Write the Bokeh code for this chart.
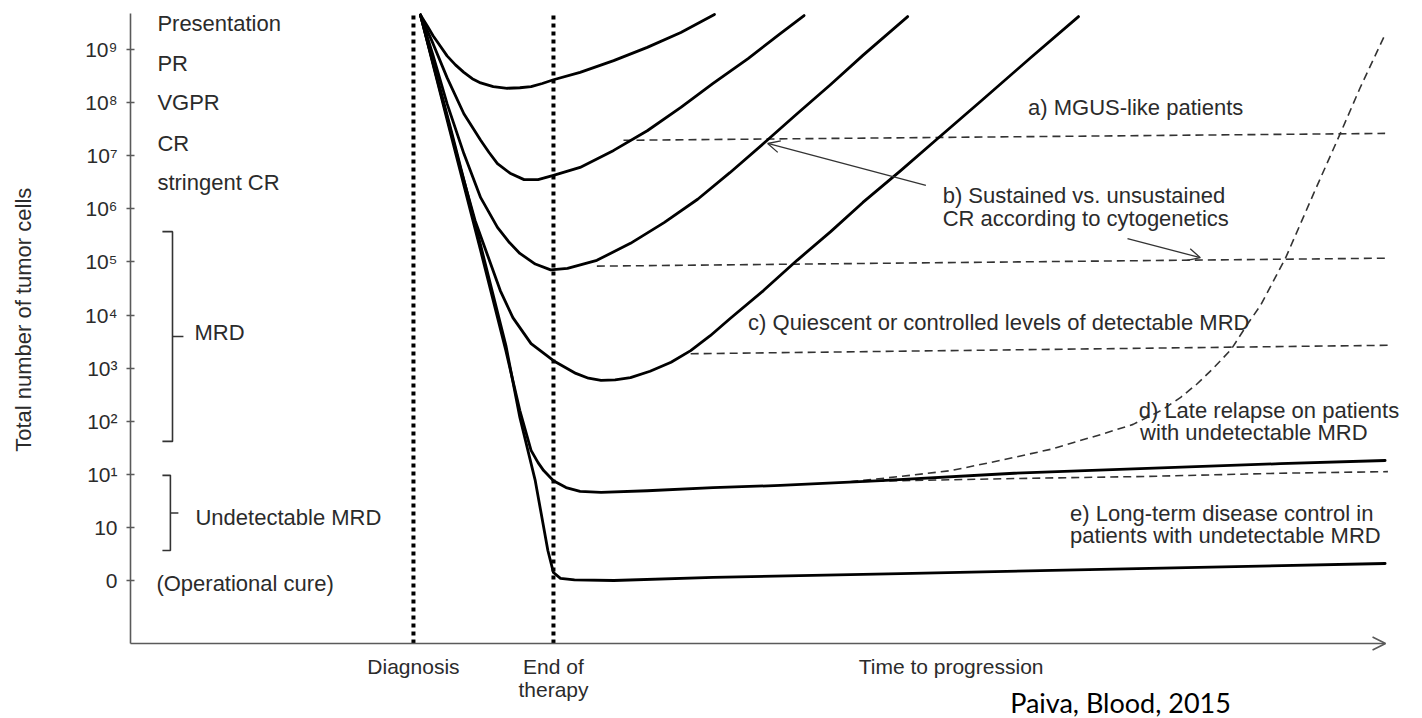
from bokeh.plotting import figure
from bokeh.models import Range1d, FixedTicker, Arrow, OpenHead
from bokeh.core.properties import value
from bokeh.embed import file_html
from bokeh.resources import INLINE

# ---- axis definitions -------------------------------------------------------
# y: log-level index (0 = operational cure ... 10 = 10^9 cells)
level_ticks = [0, 1, 2, 3, 4, 5, 6, 7, 8, 9, 10]
level_labels = ["0", "10", "10\u00b9", "10\u00b2", "10\u00b3", "10\u2074",
                "10\u2075", "10\u2076", "10\u2077", "10\u2078", "10\u2079"]
axis_top = 10.68          # top of the level axis
axis_base = -1.186        # level where the time axis runs
# x: time, diagnosis = 0, end of therapy = 1
time_start, time_end = -2.021, 6.943
time_ticks = [0, 1, 3.84]
time_labels = ["Diagnosis", "End of\ntherapy", "Time to progression"]
milestones = [0, 1]

# response categories listed next to the axis
response_names = ["Presentation", "PR", "VGPR", "CR", "stringent CR"]
response_levels = [10.49, 9.74, 9.00, 8.23, 7.50]

# MRD brackets (level ranges)
mrd_range = [2.62, 6.57]
undetectable_range = [0.565, 1.98]

# ---- disease trajectories ---------------------------------------------------
pr_t = [0.05, 0.10, 0.14, 0.19, 0.24, 0.30, 0.36, 0.42, 0.48, 0.57, 0.67, 0.76, 0.84,
        0.92, 1.00, 1.19, 1.43, 1.67, 1.91, 2.15]
pr_k = [10.65, 10.44, 10.26, 10.07, 9.88, 9.71, 9.57, 9.45, 9.37, 9.30, 9.27, 9.28, 9.30,
        9.36, 9.43, 9.57, 9.79, 10.04, 10.32, 10.66]

vgpr_t = [0.05, 0.14, 0.24, 0.36, 0.48, 0.54, 0.60, 0.69, 0.79, 0.89, 1.00, 1.19, 1.43,
          1.67, 1.91, 2.14, 2.39, 2.62, 2.79]
vgpr_k = [10.65, 10.11, 9.47, 8.79, 8.29, 8.06, 7.85, 7.67, 7.55, 7.55, 7.63, 7.78, 8.10,
          8.47, 8.91, 9.36, 9.83, 10.30, 10.64]

cr_t = [0.05, 0.14, 0.24, 0.36, 0.48, 0.60, 0.68, 0.76, 0.87, 0.98, 1.10, 1.31, 1.55,
        1.79, 2.03, 2.26, 2.50, 2.74, 2.98, 3.21, 3.53]
cr_k = [10.65, 9.89, 8.98, 8.04, 7.21, 6.65, 6.38, 6.16, 5.96, 5.85, 5.88, 6.03, 6.35,
        6.74, 7.18, 7.68, 8.23, 8.79, 9.34, 9.89, 10.62]

scr_t = [0.05, 0.19, 0.33, 0.44, 0.53, 0.62, 0.71, 0.84, 1.00, 1.16, 1.25, 1.34, 1.44,
         1.55, 1.69, 1.84, 1.98, 2.12, 2.26, 2.50, 2.74, 2.98, 3.21, 3.48, 3.73, 4.05,
         4.41, 4.75]
scr_k = [10.65, 9.23, 7.82, 6.78, 6.12, 5.46, 4.95, 4.46, 4.14, 3.90, 3.81, 3.77, 3.78,
         3.82, 3.94, 4.11, 4.33, 4.61, 4.93, 5.46, 6.03, 6.57, 7.12, 7.72, 8.29, 9.02,
         9.85, 10.62]

late_t = [0.05, 0.26, 0.48, 0.66, 0.76, 0.84, 0.89, 0.93, 1.00, 1.09, 1.19, 1.34, 1.67,
          2.14, 2.62, 3.34, 4.29, 5.24, 6.19, 6.94]
late_k = [10.65, 8.47, 6.21, 4.33, 3.20, 2.45, 2.22, 2.07, 1.88, 1.75, 1.68, 1.66, 1.69,
          1.75, 1.79, 1.88, 2.02, 2.11, 2.20, 2.26]

cure_t = [0.05, 0.26, 0.48, 0.66, 0.76, 0.87, 0.96, 1.00, 1.05, 1.15, 1.43, 2.14, 3.48,
          4.91, 6.94]
cure_k = [10.65, 8.57, 6.31, 4.43, 3.07, 1.88, 0.565, 0.15, 0.04, 0.01, 0.00, 0.06, 0.13,
          0.21, 0.32]

# late relapse branch and its controlled counterpart (dashed)
relapse_t = [3.12, 3.48, 3.84, 4.19, 4.55, 4.91, 5.14, 5.34, 5.48, 5.60, 5.71, 5.84,
             5.96, 6.05, 6.23, 6.43, 6.62, 6.76, 6.93]
relapse_k = [1.86, 1.96, 2.07, 2.26, 2.47, 2.75, 2.94, 3.20, 3.45, 3.71, 3.99, 4.35,
             4.84, 5.18, 6.08, 7.29, 8.42, 9.27, 10.23]
controlled_t = [3.12, 4.29, 5.24, 6.19, 6.96]
controlled_k = [1.86, 1.92, 1.96, 2.02, 2.05]

# plateau levels (dashed)
mgus_t, mgus_k = [1.50, 6.94], [8.29, 8.42]
sustained_t, sustained_k = [1.31, 6.94], [5.92, 6.07]
quiescent_t, quiescent_k = [1.98, 6.96], [4.27, 4.43]

# annotation texts
notes = [
    ("a) MGUS-like patients", 4.39, 8.91),
    ("b) Sustained vs. unsustained", 3.78, 7.25),
    ("CR according to cytogenetics", 3.78, 6.82),
    ("c) Quiescent or controlled levels of detectable MRD", 2.39, 4.86),
    ("d) Late relapse on patients", 5.18, 3.20),
    ("with undetectable MRD", 5.19, 2.79),
    ("e) Long-term disease control in", 4.69, 1.26),
    ("patients with undetectable MRD", 4.69, 0.85),
]
# pointer arrows (tail -> head)
pointers = [((3.66, 7.44), (2.53, 8.23)), ((5.10, 6.44), (5.62, 6.08))]

citation = ("Paiva, Blood, 2015", 5.05, -2.30)

# ---- figure -----------------------------------------------------------------
FONT = "Liberation Sans"
TXT = "#2b2b2b"
AX = "#5a5a5a"

x0 = time_start - 2 / 140.0   # frame starts just left of the level axis line
p = figure(width=1422, height=718, output_backend="svg", toolbar_location=None,
           x_range=Range1d(x0, 7.207), y_range=Range1d(-2.599, 10.923),
           x_axis_location=None,
           min_border_left=128, min_border_right=0, min_border_top=0,
           min_border_bottom=0)
p.outline_line_color = None
p.grid.visible = False
p.background_fill_color = "white"
p.border_fill_color = "white"

ya = p.yaxis[0]
ya.ticker = FixedTicker(ticks=level_ticks)
ya.major_label_overrides = {t: s for t, s in zip(level_ticks, level_labels)}
ya.axis_line_color = None
ya.major_tick_line_color = AX
ya.major_tick_line_width = 1.6
ya.major_tick_in = 6
ya.major_tick_out = 2
ya.minor_tick_line_color = None
ya.major_label_standoff = 9
ya.major_label_text_font = FONT
ya.major_label_text_font_size = "21px"
ya.major_label_text_color = TXT
# leading no-break spaces lift the centred title to sit beside the tick range
ya.axis_label = "\u00a0" * 13 + "Total number of tumor cells"
ya.axis_label_text_font = FONT
ya.axis_label_text_font_size = "22px"
ya.axis_label_text_font_style = "normal"
ya.axis_label_text_color = TXT
ya.axis_label_standoff = 46

# level axis line
p.segment(x0=[time_start], y0=[axis_base], x1=[time_start], y1=[axis_top],
          line_color=AX, line_width=1.6)

# time axis with arrow head
p.add_layout(Arrow(end=OpenHead(size=13, line_width=1.6, line_color=AX),
                   x_start=time_start, y_start=axis_base, x_end=time_end, y_end=axis_base,
                   line_color=AX, line_width=1.6))
p.text(x=time_ticks, y=[axis_base - 0.226] * len(time_ticks), text=time_labels,
       text_font=value(FONT), text_font_size="21px", text_color=TXT,
       text_align="center", text_baseline="top", text_line_height=1.0)

# diagnosis / end of therapy markers
p.segment(x0=milestones, y0=[axis_base] * 2, x1=milestones, y1=[axis_top] * 2,
          line_color="black", line_width=4, line_dash="4 4")

# response categories
p.text(x=[-1.829] * len(response_names), y=response_levels, text=response_names,
       text_font=value(FONT), text_font_size="22px", text_color=TXT,
       text_baseline="middle", text_align="left")

# MRD brackets
for (lo, hi), bar_x, tick_x in ((mrd_range, -1.721, -1.643),
                                (undetectable_range, -1.736, -1.679)):
    p.line([-1.793, bar_x, bar_x, -1.793], [hi, hi, lo, lo],
           line_color="#333", line_width=1.6)
    mid = (lo + hi) / 2
    p.segment(x0=[bar_x], y0=[mid], x1=[tick_x], y1=[mid],
              line_color="#333", line_width=1.6)

p.text(x=[-1.564, -1.557, -1.836], y=[4.67, 1.19, -0.06],
       text=["MRD", "Undetectable MRD", "(Operational cure)"],
       text_font=value(FONT), text_font_size="22px", text_color=TXT,
       text_baseline="middle", text_align="left")

# plateau dashed lines
dash_kw = dict(line_color="#333", line_width=1.6, line_dash="8 5")
for xs, ys in ((mgus_t, mgus_k), (sustained_t, sustained_k),
               (quiescent_t, quiescent_k), (relapse_t, relapse_k),
               (controlled_t, controlled_k)):
    p.line(xs, ys, **dash_kw)

# trajectories
for xs, ys in ((pr_t, pr_k), (vgpr_t, vgpr_k), (cr_t, cr_k), (scr_t, scr_k),
               (late_t, late_k), (cure_t, cure_k)):
    p.line(xs, ys, line_color="black", line_width=2.8,
           line_join="round", line_cap="round")

# annotations
p.text(x=[n[1] for n in notes], y=[n[2] for n in notes], text=[n[0] for n in notes],
       text_font=value(FONT), text_font_size="22px", text_color=TXT,
       text_baseline="middle", text_align="left")

for (xa0, ya0), (xa1, ya1) in pointers:
    p.add_layout(Arrow(end=OpenHead(size=12, line_width=1.3, line_color="#333"),
                       x_start=xa0, y_start=ya0, x_end=xa1, y_end=ya1,
                       line_color="#333", line_width=1.3))

p.text(x=[citation[1]], y=[citation[2]], text=[citation[0]],
       text_font=value("Lato"), text_font_size="27px", text_color="black",
       text_align="center", text_baseline="middle")

open("out.html", "w").write(file_html(p, INLINE))
